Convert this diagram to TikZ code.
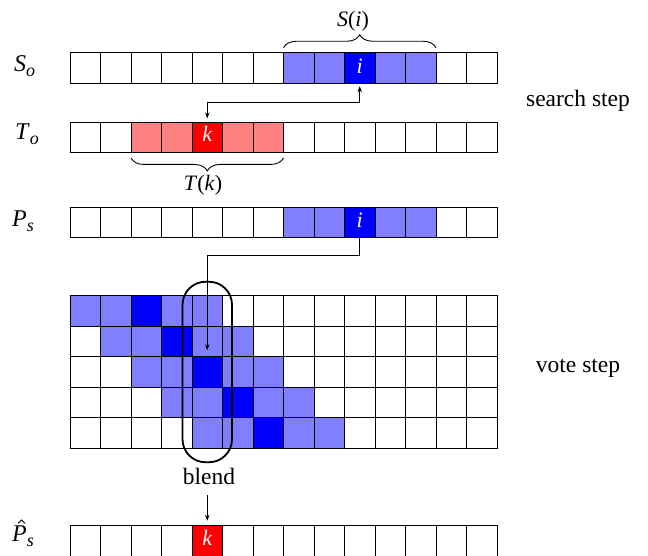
\RequirePackage{fix-cm}
\documentclass[tikz,border=0pt]{standalone}
\usepackage{fontspec}
\setmainfont{Liberation Serif}
\usetikzlibrary{arrows.meta,decorations.pathreplacing,fit}

\definecolor{lightblue}{HTML}{8080FF}
\definecolor{deepblue}{HTML}{0000FF}
\definecolor{lightred}{HTML}{FF8080}
\definecolor{deepred}{HTML}{FF0000}

% italic index set lowered below the baseline
\newcommand{\lowidx}[1]{\raisebox{-5pt}{\fontsize{18}{20}\selectfont\textit{#1}}}

\tikzset{
  cell/.style={draw=black, line width=0.9pt, minimum width=30.5pt,
    minimum height=30.5pt, inner sep=0pt, outer sep=0pt},
  cw/.style={cell, fill=white},
  cb/.style={cell, fill=lightblue},
  cB/.style={cell, fill=deepblue},
  cr/.style={cell, fill=lightred},
  cR/.style={cell, fill=deepred},
  celltext/.style={text=white, anchor=base, inner sep=0pt,
    font=\fontsize{22}{26}\selectfont\itshape},
  rowlabel/.style={anchor=base west, inner sep=0pt, font=\fontsize{24}{28}\selectfont},
  mathlabel/.style={anchor=base, inner sep=0pt, font=\fontsize{22}{26}\selectfont},
  steplabel/.style={anchor=base, inner sep=0pt, font=\fontsize{23.5}{28}\selectfont},
  link/.style={line width=0.8pt, -{Stealth[length=6pt,width=4.5pt]}},
  bracedeco/.style={decorate, decoration={brace, amplitude=13pt, raise=5pt},
    line width=0.9pt},
  blendbox/.style={draw=black, line width=1.8pt, rounded corners=23pt,
    inner xsep=9.5pt, inner ysep=14pt},
  hatline/.style={line width=0.9pt, line join=miter},
}

\begin{document}
\begin{tikzpicture}[x=1pt, y=-1pt]
\useasboundingbox (0,0) rectangle (648,556);

% source patches S_o
\foreach \s [count=\c from 0] in {cw,cw,cw,cw,cw,cw,cw,cb,cb,cB,cb,cb,cw,cw}
  \node[\s] (So\c) at ({85.25+30.5*\c},68) {};
% target patches T_o
\foreach \s [count=\c from 0] in {cw,cw,cr,cr,cR,cr,cr,cw,cw,cw,cw,cw,cw,cw}
  \node[\s] (To\c) at ({85.25+30.5*\c},137.7) {};
% synthesised patches P_s
\foreach \s [count=\c from 0] in {cw,cw,cw,cw,cw,cw,cw,cb,cb,cB,cb,cb,cw,cw}
  \node[\s] (Ps\c) at ({85.25+30.5*\c},222.5) {};
% voting grid: each row holds a shifted window of five patches
\foreach \r in {0,...,4}
  \foreach \c in {0,...,13}{
    \pgfmathtruncatemacro{\d}{\c-\r}
    \def\gs{cw}
    \ifnum\d>-1 \ifnum\d<5 \def\gs{cb}\fi\fi
    \ifnum\d=2 \def\gs{cB}\fi
    \node[\gs] (g\r-\c) at ({85.25+30.5*\c},{311+30.5*\r}) {};
  }
% blended result
\foreach \s [count=\c from 0] in {cw,cw,cw,cw,cR,cw,cw,cw,cw,cw,cw,cw,cw,cw}
  \node[\s] (Ph\c) at ({85.25+30.5*\c},541) {};

% letters inside highlighted cells
\node[celltext] (iS) at ([yshift=-5.3pt]So9.center) {i};
\node[celltext] (kT) at ([yshift=-4pt]To4.center) {k};
\node[celltext] (iP) at ([yshift=-5.3pt]Ps9.center) {i};
\node[celltext] (kP) at ([yshift=-4pt]Ph4.center) {k};

% row names
\node[rowlabel] (lSo) at (14,71.7) {\textit{S}\lowidx{o}};
\node[rowlabel] (lTo) at (15,140) {\textit{T}\lowidx{o}};
\node[rowlabel] (lPs) at (12,226.7) {\textit{P}\lowidx{s}};
\node[rowlabel] (lPh) at (12,541.7) {\textit{P}\lowidx{s}};
% circumflex over the P of the blended row
\draw[hatline] ([shift={(6,-18.4)}]lPh.base west)
  -- ([shift={(9.5,-21.6)}]lPh.base west)
  -- ([shift={(13,-18.4)}]lPh.base west);

% neighbourhood braces
\draw[bracedeco] (So7.north west) -- (So11.north east);
\node[mathlabel] (Si) at (353,27) {\textit{S}(\textit{i\/})};
\draw[bracedeco] (To6.south east) -- (To2.south west);
\node[mathlabel] (Tk) at (203,190.7) {\textit{T}(\textit{k\/})};

% search step link
\draw[line width=0.8pt, {Stealth[length=6pt,width=4.5pt]}-{Stealth[length=6pt,width=4.5pt]},
  shorten <=3pt, shorten >=4pt] (So9.south) -- ++(0,19.4) -| (To4.north);

% blend window over the grid
\node[blendbox, fit=(g0-4)(g4-4)] (blend box) {};

% vote step link
\draw[link, shorten >=6.5pt] (Ps9.south) -- ++(0,18) -| (g2-4.north);

% step names
\node[steplabel] (search) at (578,106.7) {search step};
\node[steplabel] (vote) at (578,372) {vote step};
\node[steplabel] (blend) at (209,484.3) {blend};

% blend link
\draw[link, shorten <=10.5pt, shorten >=5pt] (blend.south -| Ph4.north) -- (Ph4.north);
\end{tikzpicture}
\end{document}
